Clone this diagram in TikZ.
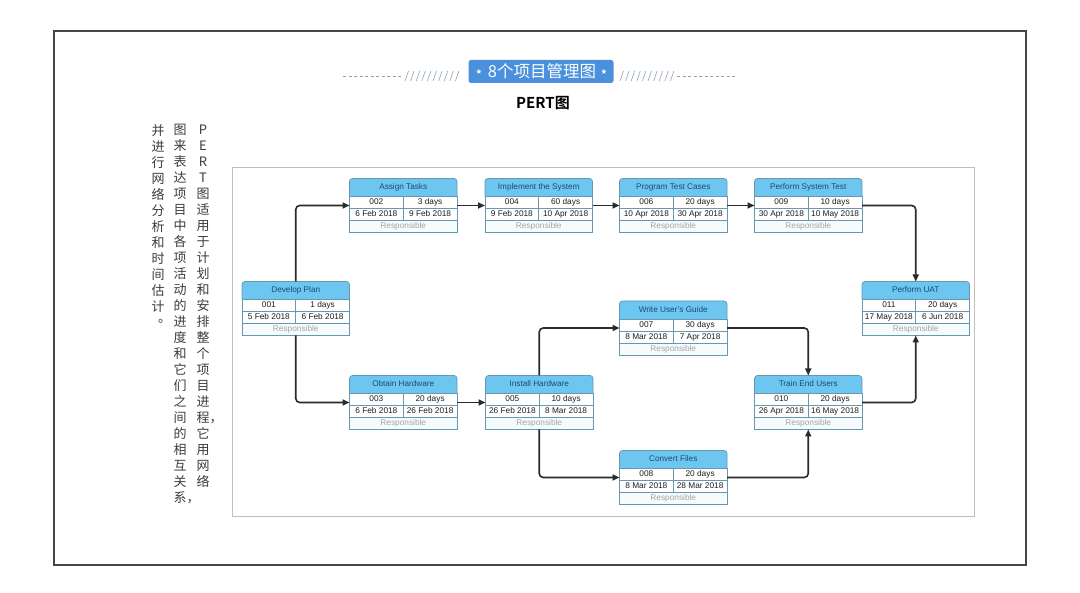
\documentclass[tikz,border=0pt]{standalone}
\usepackage{fontspec}
\setmainfont{Liberation Sans}
\newfontfamily\cjk{Noto Sans CJK SC}[BoldFont={Noto Sans CJK SC Bold}]
\newfontfamily\djv{DejaVu Sans}
\usetikzlibrary{arrows.meta}
\definecolor{hdr}{HTML}{6CC6EF}
\definecolor{hdrtxt}{HTML}{1B4A75}
\definecolor{bord}{HTML}{6897B0}
\definecolor{resp}{HTML}{A4A4A4}
\definecolor{respbg}{HTML}{F6FBFE}
\definecolor{celltxt}{HTML}{1E1E1E}
\definecolor{titleblue}{HTML}{4A90DC}
\definecolor{deco}{HTML}{8FA3B8}
\definecolor{conncol}{HTML}{2A2A2A}
\definecolor{framecol}{HTML}{464646}
\definecolor{vtxt}{HTML}{3C3C3C}
\def\pw{107.5}
\newcommand\pertnode[8]{%
  \node[pbox, anchor=north west] (#1) at (#2,#3) {};
  \filldraw[fill=hdr, draw=bord, line width=0.7pt, rounded corners=3pt]
    ({#2},{#3+18}) -- ({#2},{#3}) -- ({#2+\pw},{#3}) -- ({#2+\pw},{#3+18});
  \fill[white] ({#2},{#3+18}) rectangle ({#2+\pw},{#3+42});
  \fill[respbg] ({#2},{#3+42}) rectangle ({#2+\pw},{#3+54});
  \draw[bord, line width=0.7pt] ({#2},{#3+18}) rectangle ({#2+\pw},{#3+54});
  \draw[bord, line width=0.7pt] ({#2},{#3+30}) -- ({#2+\pw},{#3+30});
  \draw[bord, line width=0.7pt] ({#2},{#3+42}) -- ({#2+\pw},{#3+42});
  \draw[bord, line width=0.7pt] ({#2+\pw/2},{#3+18}) -- ({#2+\pw/2},{#3+42});
  \node[ttl] at ({#2+\pw/2},{#3+9.3}) {#4};
  \node[cell] at ({#2+\pw/4},{#3+24.3}) {#5};
  \node[cell] at ({#2+3*\pw/4},{#3+24.3}) {#6};
  \node[cell] at ({#2+\pw/4},{#3+36.3}) {#7};
  \node[cell] at ({#2+3*\pw/4},{#3+36.3}) {#8};
  \node[cell, text=resp] at ({#2+\pw/2},{#3+48.3}) {Responsible};
}
\begin{document}
\begin{tikzpicture}[x=1pt, y=-1pt,
  pbox/.style={minimum width=107.5pt, minimum height=54pt, inner sep=0pt, outer sep=0pt},
  ttl/.style={inner sep=0pt, text=hdrtxt, font=\fontsize{8.2}{9}\selectfont, text height=6pt, text depth=1.8pt},
  cell/.style={inner sep=0pt, text=celltxt, font=\fontsize{8.3}{9}\selectfont, text height=6pt, text depth=1.8pt},
  conn/.style={draw=conncol, line width=1.6pt, rounded corners=4pt, -{Triangle[length=7pt, width=6pt]}},
  vtext/.style={inner sep=0pt, align=center, text=vtxt, font=\cjk\fontsize{13}{16}\selectfont, anchor=north},
  decoline/.style={draw=deco, line width=0.6pt}]
\useasboundingbox (0,0) rectangle (1080,593);
\fill[white] (0,0) rectangle (1080,593);
% outer frame
\draw[framecol, line width=1.3pt] (54,31) rectangle (1026,565);
% title
\draw[decoline, dash pattern=on 3pt off 2.5pt] (343,76) -- (401,76);
\foreach \i in {0,...,9} \draw[decoline] ({405+\i*5.6},81) -- ({408.5+\i*5.6},71);
\foreach \i in {0,...,9} \draw[decoline] ({620+\i*5.6},81) -- ({623.5+\i*5.6},71);
\draw[decoline, dash pattern=on 3pt off 2.5pt] (677,76) -- (737,76);
\node[fill=titleblue, rounded corners=2.5pt, minimum width=145pt, minimum height=23pt, inner sep=0pt] (titlebox) at (541,71.5) {};
\node[inner sep=0pt, text=white, font=\cjk\fontsize{16.5}{18}\selectfont] (titletext) at (542,71.5) {8个项目管理图};
\node[inner sep=0pt, text=white, font=\djv\fontsize{7.5}{8}\selectfont] (star1) at (479,72) {★};
\node[inner sep=0pt, text=white, font=\djv\fontsize{7.5}{8}\selectfont] (star2) at (604,72) {★};
\node[inner sep=0pt, font=\cjk\bfseries\fontsize{15}{16}\selectfont] (pert) at (543,103.5) {PERT图};
% vertical text
\node[vtext] (col1) at (203,124) {\vphantom{图}P\\E\\R\\T\\图\\适\\用\\于\\计\\划\\和\\安\\排\\整\\个\\项\\目\\进\\程\rlap{，}\\它\\用\\网\\络};
\node[vtext] (col2) at (180,124) {\vphantom{图}图\\来\\表\\达\\项\\目\\中\\各\\项\\活\\动\\的\\进\\度\\和\\它\\们\\之\\间\\的\\相\\互\\关\\系\rlap{，}};
\node[vtext] (col3) at (158,124) {\vphantom{图}并\\进\\行\\网\\络\\分\\析\\和\\时\\间\\估\\计\\\raisebox{5pt}{\hspace*{1em}。}};
% diagram frame
\draw[draw=black!25, line width=0.8pt] (232.5,167) rectangle (974.5,516);
% nodes
\pertnode{dev}{242}{281.5}{Develop Plan}{001}{1 days}{5 Feb 2018}{6 Feb 2018}
\pertnode{assign}{349.5}{178.5}{Assign Tasks}{002}{3 days}{6 Feb 2018}{9 Feb 2018}
\pertnode{impl}{485}{178.5}{Implement the System}{004}{60 days}{9 Feb 2018}{10 Apr 2018}
\pertnode{prog}{619.5}{178.5}{Program Test Cases}{006}{20 days}{10 Apr 2018}{30 Apr 2018}
\pertnode{pst}{754.5}{178.5}{Perform System Test}{009}{10 days}{30 Apr 2018}{10 May 2018}
\pertnode{uat}{862}{281.5}{Perform UAT}{011}{20 days}{17 May 2018}{6 Jun 2018}
\pertnode{write}{619.5}{301}{Write User's Guide}{007}{30 days}{8 Mar 2018}{7 Apr 2018}
\pertnode{obtain}{349.5}{375.5}{Obtain Hardware}{003}{20 days}{6 Feb 2018}{26 Feb 2018}
\pertnode{install}{485.5}{375.5}{Install Hardware}{005}{10 days}{26 Feb 2018}{8 Mar 2018}
\pertnode{train}{754.5}{375.5}{Train End Users}{010}{20 days}{26 Apr 2018}{16 May 2018}
\pertnode{convert}{619.5}{450.5}{Convert Files}{008}{20 days}{8 Mar 2018}{28 Mar 2018}
% connectors
\draw[conn] (dev.north) |- (assign.west);
\draw[conn] (dev.south) |- (obtain.west);
\draw[conn] (assign.east) -- (impl.west);
\draw[conn] (impl.east) -- (prog.west);
\draw[conn] (prog.east) -- (pst.west);
\draw[conn] (pst.east) -| (uat.north);
\draw[conn] (obtain.east) -- (install.west);
\draw[conn] (install.north) |- (write.west);
\draw[conn] (install.south) |- (convert.west);
\draw[conn] (write.east) -| (train.north);
\draw[conn] (convert.east) -| (train.south);
\draw[conn] (train.east) -| (uat.south);
\end{tikzpicture}
\end{document}
